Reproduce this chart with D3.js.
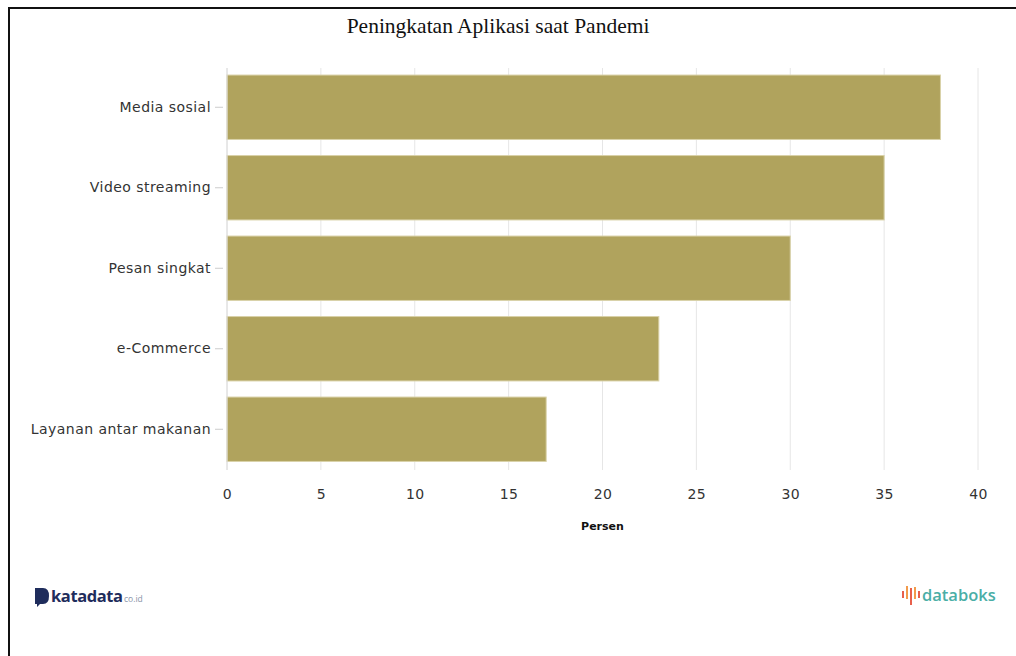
<!DOCTYPE html>
<html>
<head>
<meta charset="utf-8">
<script src="https://cdn.jsdelivr.net/npm/d3@7"></script>
<style>
	body { margin: 0; background: #fff; }
	svg { display: block; }
</style>
</head>
<body>
<svg id="chart" width="1016" height="656"></svg>
<script>
var categories = ["Media sosial", "Video streaming", "Pesan singkat", "e-Commerce", "Layanan antar makanan"];
var values = [38, 35, 30, 23, 17];
var xTicks = [0, 5, 10, 15, 20, 25, 30, 35, 40];

var svg = d3.select("#chart");

/* frame */
svg.append("path")
	.attr("d", "M9,656 V8 H1016")
	.attr("fill", "none")
	.attr("stroke", "#111")
	.attr("stroke-width", 2);

var x = d3.scaleLinear().domain([0, 40]).range([227, 978]);
var y = d3.scaleBand().domain(categories).range([67, 469.5]).paddingInner(0.2).paddingOuter(0.1);

/* grid */
svg.append("g")
	.selectAll("line")
	.data(xTicks)
	.enter()
	.append("line")
	.attr("x1", function(d) { return x(d); })
	.attr("x2", function(d) { return x(d); })
	.attr("y1", 68)
	.attr("y2", 470)
	.attr("stroke", "#e6e6e6")
	.attr("stroke-width", 1);

/* bars */
svg.append("g")
	.selectAll("rect")
	.data(categories)
	.enter()
	.append("rect")
	.attr("x", x(0))
	.attr("y", function(d) { return y(d); })
	.attr("width", function(d, i) { return x(values[i]) - x(0); })
	.attr("height", y.bandwidth())
	.attr("fill", "#b0a35d")
	.attr("stroke", "#d9d2a8")
	.attr("stroke-width", 1);

/* left axis line */
svg.append("line")
	.attr("x1", x(0)).attr("x2", x(0))
	.attr("y1", 68).attr("y2", 470)
	.attr("stroke", "#dcdcdc");

/* y axis */
var yAxis = svg.append("g")
	.attr("transform", "translate(" + (x(0) - 4) + ",0)")
	.call(d3.axisLeft(y).tickSize(8).tickPadding(4));
yAxis.select(".domain").remove();
yAxis.selectAll(".tick line").attr("stroke", "#ccc");
yAxis.selectAll("text")
	.attr("font-family", "Verdana, 'DejaVu Sans', sans-serif")
	.attr("font-size", 14)
	.attr("letter-spacing", 0.45)
	.attr("fill", "#333");

/* x axis */
var xAxis = svg.append("g")
	.attr("transform", "translate(0,470)")
	.call(d3.axisBottom(x).tickValues(xTicks).tickSize(0).tickPadding(19));
xAxis.select(".domain").remove();
xAxis.selectAll("text")
	.attr("font-family", "Verdana, 'DejaVu Sans', sans-serif")
	.attr("font-size", 14)
	.attr("letter-spacing", 0.4)
	.attr("fill", "#333");

svg.append("text")
	.attr("x", x(20))
	.attr("y", 530)
	.attr("text-anchor", "middle")
	.attr("font-family", "Verdana, 'DejaVu Sans', sans-serif")
	.attr("font-size", 11)
	.attr("font-weight", "bold")
	.attr("fill", "#111")
	.text("Persen");

/* title */
svg.append("text")
	.attr("x", 498)
	.attr("y", 33)
	.attr("text-anchor", "middle")
	.attr("font-family", "'Liberation Serif', 'Times New Roman', serif")
	.attr("font-size", 21.5)
	.attr("fill", "#111")
	.text("Peningkatan Aplikasi saat Pandemi");

/* katadata logo */
var kd = svg.append("g").attr("transform", "translate(35,588)");
kd.append("path")
	.attr("d", "M0,0 H8 Q14,0 14,8 Q14,16 8,16 H5 L2,19 V16 H0 Z")
	.attr("fill", "#1f2d5c");
kd.append("text")
	.attr("x", 16).attr("y", 14)
	.attr("font-family", "'Open Sans', Arial, sans-serif")
	.attr("font-size", 16.5)
	.attr("font-weight", "bold")
	.attr("fill", "#1f2d5c")
	.attr("letter-spacing", -0.4)
	.text("katadata");
kd.append("text")
	.attr("x", 89).attr("y", 14)
	.attr("font-family", "'Open Sans', Arial, sans-serif")
	.attr("font-size", 8.5)
	.attr("fill", "#8a94a8")
	.text("co.id");

/* databoks logo */
var db = svg.append("g").attr("transform", "translate(902,585)");
var barsH = [[0, 6, 7, "#e8604c"], [4, 1, 13, "#f29b4b"], [8, 3, 17, "#e8604c"], [12, 2, 12, "#f29b4b"], [16, 6, 7, "#e8604c"]];
barsH.forEach(function(b) {
	db.append("rect")
		.attr("x", b[0]).attr("y", b[1])
		.attr("width", 2).attr("height", b[2])
		.attr("fill", b[3]);
});
db.append("text")
	.attr("x", 20).attr("y", 16)
	.attr("font-family", "'Open Sans', Arial, sans-serif")
	.attr("font-size", 16.5)
	.attr("font-weight", "600")
	.attr("fill", "#4aaea6")
	.text("databoks");
</script>
</body>
</html>
